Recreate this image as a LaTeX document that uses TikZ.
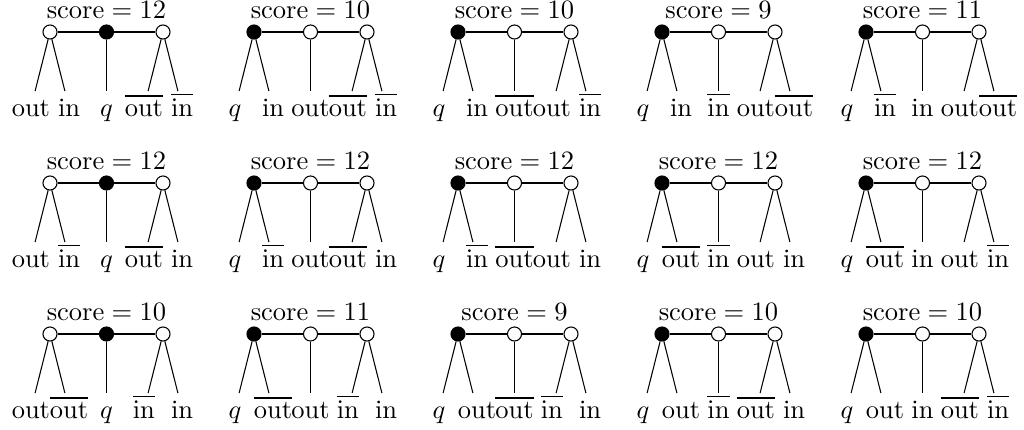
\documentclass[tikz,border=0pt]{standalone}
\tikzset{
  vert/.style={circle, draw, line width=0.4pt, minimum size=5.3pt, inner sep=0pt},
  filledv/.style={vert, fill=black},
  openv/.style={vert, fill=white},
  leaflab/.style={anchor=base, text height=8.5pt, text depth=2.2pt, inner xsep=1pt, inner ysep=0.75pt},
  scorelab/.style={anchor=base, inner sep=0pt},
  conn/.style={line width=0.4pt}
}
\newcommand\lbq{$q$}
\newcommand\lbout{out}
\newcommand\lbin{in}
\newcommand\lbnout{$\overline{\mathrm{out}}$}
\newcommand\lbnin{$\overline{\mathrm{in}}$}
% #1 col, #2 row, #3 filled (0 = middle, 1 = left), #4 score, #5-#9 labels
\newcommand\panel[9]{%
  \begin{scope}[shift={({50+204*#1},{32+151*#2})}]
    \ifnum#3=0
      \tikzset{styA/.style={openv}, styB/.style={filledv}}%
    \else
      \tikzset{styA/.style={filledv}, styB/.style={openv}}%
    \fi
    \node[styA] (A#1#2) at (0,0) {};
    \node[styB] (B#1#2) at (56.5,0) {};
    \node[openv] (C#1#2) at (113,0) {};
    \node[scorelab] (S#1#2) at (56.5,-13.5) {$\mathrm{score}=#4$};
    \node[leaflab] (La#1#2) at (-19.1,84) {#5};
    \node[leaflab] (Lb#1#2) at (19.1,84) {#6};
    \node[leaflab] (Lc#1#2) at (56.5,84) {#7};
    \node[leaflab] (Ld#1#2) at (93.9,84) {#8};
    \node[leaflab] (Le#1#2) at (132.1,84) {#9};
    \draw[conn] (A#1#2) -- (B#1#2) -- (C#1#2);
    \draw[conn] (A#1#2) -- (La#1#2);
    \draw[conn] (A#1#2) -- (Lb#1#2);
    \draw[conn] (B#1#2) -- (Lc#1#2);
    \draw[conn] (C#1#2) -- (Ld#1#2);
    \draw[conn] (C#1#2) -- (Le#1#2);
  \end{scope}}
\begin{document}
\begin{tikzpicture}[x=0.3774pt, y=-0.3774pt]
  \useasboundingbox (0,0) rectangle (1024,429);
  % row 0
  \panel{0}{0}{0}{12}{\lbout}{\lbin}{\lbq}{\lbnout}{\lbnin}
  \panel{1}{0}{1}{10}{\lbq}{\lbin}{\lbout}{\lbnout}{\lbnin}
  \panel{2}{0}{1}{10}{\lbq}{\lbin}{\lbnout}{\lbout}{\lbnin}
  \panel{3}{0}{1}{9}{\lbq}{\lbin}{\lbnin}{\lbout}{\lbnout}
  \panel{4}{0}{1}{11}{\lbq}{\lbnin}{\lbin}{\lbout}{\lbnout}
  % row 1
  \panel{0}{1}{0}{12}{\lbout}{\lbnin}{\lbq}{\lbnout}{\lbin}
  \panel{1}{1}{1}{12}{\lbq}{\lbnin}{\lbout}{\lbnout}{\lbin}
  \panel{2}{1}{1}{12}{\lbq}{\lbnin}{\lbnout}{\lbout}{\lbin}
  \panel{3}{1}{1}{12}{\lbq}{\lbnout}{\lbnin}{\lbout}{\lbin}
  \panel{4}{1}{1}{12}{\lbq}{\lbnout}{\lbin}{\lbout}{\lbnin}
  % row 2
  \panel{0}{2}{0}{10}{\lbout}{\lbnout}{\lbq}{\lbnin}{\lbin}
  \panel{1}{2}{1}{11}{\lbq}{\lbnout}{\lbout}{\lbnin}{\lbin}
  \panel{2}{2}{1}{9}{\lbq}{\lbout}{\lbnout}{\lbnin}{\lbin}
  \panel{3}{2}{1}{10}{\lbq}{\lbout}{\lbnin}{\lbnout}{\lbin}
  \panel{4}{2}{1}{10}{\lbq}{\lbout}{\lbin}{\lbnout}{\lbnin}
\end{tikzpicture}
\end{document}
